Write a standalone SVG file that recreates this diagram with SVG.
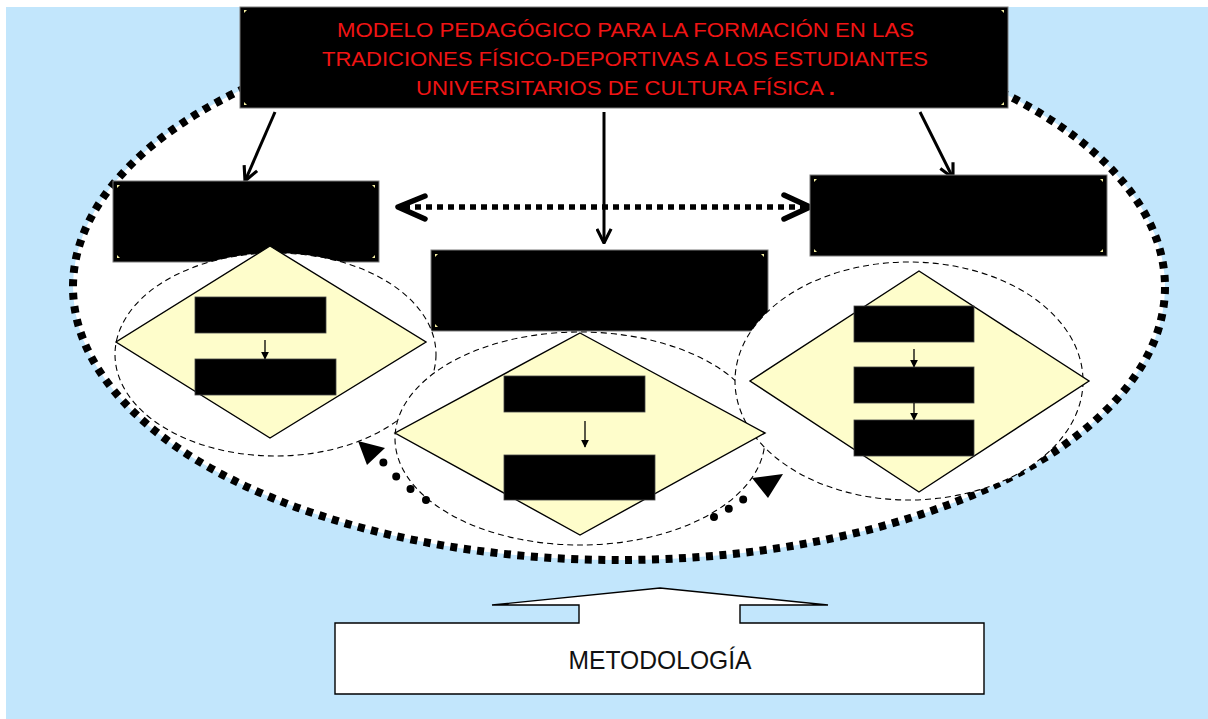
<svg xmlns="http://www.w3.org/2000/svg" width="1208" height="719" viewBox="0 0 1208 719">
<defs>
<style>
.blk{fill:#000;stroke:#7a7a7a;stroke-width:1}
.dia{fill:#fefdcb;stroke:#000;stroke-width:1.4}
.sell{fill:#fff;stroke:#000;stroke-width:1.1;stroke-dasharray:6 4}
.ib{fill:#000;stroke:#444;stroke-width:0.8}
.tarrow{fill:none;stroke:#000;stroke-width:3;marker-end:url(#openHead)}
.iarrow{fill:none;stroke:#000;stroke-width:1.3;marker-end:url(#smallHead)}
.corner{fill:#f4eea0}
.title{font-family:"Liberation Sans Narrow","Liberation Sans",Arial,sans-serif;font-size:21px;fill:#f01414;text-anchor:middle}
.meth{font-family:"Liberation Sans Narrow","Liberation Sans",Arial,sans-serif;font-size:25px;fill:#111;text-anchor:middle}
</style>
<marker id="openHead" viewBox="0 0 12 12" refX="11" refY="6" markerWidth="17" markerHeight="17" markerUnits="userSpaceOnUse" orient="auto">
<path d="M1,1 L11,6 L1,11" fill="none" stroke="#000" stroke-width="2.2"/>
</marker>
<marker id="smallHead" viewBox="0 0 10 10" refX="9" refY="5" markerWidth="8" markerHeight="8" markerUnits="userSpaceOnUse" orient="auto">
<path d="M0,0 L10,5 L0,10 z" fill="#000"/>
</marker>
</defs>

<rect x="6" y="7" width="1202" height="712" fill="#c2e6fc"/>

<g id="outer-ellipse">
<ellipse cx="619" cy="287" rx="546" ry="273" fill="#fff" stroke="#000" stroke-width="8" stroke-dasharray="7 6.5"/>
</g>

<g id="title">
<rect class="blk" x="240" y="7" width="768" height="101"/>
<polygon class="corner" points="244,10 247,10 244,13"/>
<polygon class="corner" points="1004,10 1001,10 1004,13"/>
<polygon class="corner" points="244,105 247,105 244,102"/>
<polygon class="corner" points="1004,105 1001,105 1004,102"/>
<text class="title" x="625.5" y="37" textLength="577" lengthAdjust="spacingAndGlyphs">MODELO PEDAGÓGICO PARA LA FORMACIÓN  EN LAS</text>
<text class="title" x="625" y="66" textLength="606" lengthAdjust="spacingAndGlyphs">TRADICIONES FÍSICO-DEPORTIVAS A LOS ESTUDIANTES</text>
<text class="title" x="625.5" y="95" textLength="419" lengthAdjust="spacingAndGlyphs">UNIVERSITARIOS DE CULTURA FÍSICA <tspan font-weight="bold">.</tspan></text>
</g>

<g id="connectors">
<line class="tarrow" x1="275" y1="112" x2="245" y2="181"/>
<line class="tarrow" x1="604" y1="112" x2="604" y2="243"/>
<line class="tarrow" x1="920" y1="112" x2="953" y2="178"/>
<line x1="404" y1="207" x2="806" y2="207" stroke="#000" stroke-width="5.5" stroke-dasharray="6 5"/>
<path d="M425,196 L398,207 L425,219" fill="none" stroke="#000" stroke-width="5.5" stroke-linecap="round" stroke-linejoin="round"/>
<path d="M784,195 L810,207 L784,219" fill="none" stroke="#000" stroke-width="5.5" stroke-linecap="round" stroke-linejoin="round"/>
</g>

<g id="node-left">
<rect class="blk" x="113" y="181" width="266" height="81"/>
<polygon class="corner" points="117,185 120,185 117,188"/>
<polygon class="corner" points="375,185 372,185 375,188"/>
<polygon class="corner" points="117,258 120,258 117,255"/>
<polygon class="corner" points="375,258 372,258 375,255"/>
</g>
<g id="node-right">
<rect class="blk" x="810" y="175" width="297" height="81"/>
<polygon class="corner" points="814,179 817,179 814,182"/>
<polygon class="corner" points="1103,179 1100,179 1103,182"/>
<polygon class="corner" points="814,252 817,252 814,249"/>
<polygon class="corner" points="1103,252 1100,252 1103,249"/>
</g>
<g id="node-middle">
<rect class="blk" x="431" y="250" width="337" height="81"/>
<polygon class="corner" points="435,254 438,254 435,257"/>
<polygon class="corner" points="764,254 761,254 764,257"/>
<polygon class="corner" points="435,327 438,327 435,324"/>
</g>

<g id="cluster-left">
<ellipse class="sell" cx="275.5" cy="354.5" rx="160.5" ry="101.5"/>
</g>
<g id="cluster-middle">
<ellipse class="sell" cx="580" cy="438.5" rx="185" ry="106.5"/>
</g>
<g id="cluster-right">
<ellipse class="sell" cx="909" cy="381" rx="174" ry="119"/>
</g>

<g id="diamond-left">
<polygon class="dia" points="270,246 426,342 270,438 116,342"/>
<rect class="ib" x="195" y="297" width="131" height="36"/>
<line class="iarrow" x1="265" y1="340" x2="265" y2="359"/>
<rect class="ib" x="195" y="359" width="141" height="36"/>
</g>
<g id="diamond-middle">
<polygon class="dia" points="580,333 765,433 580,535 395,433"/>
<rect class="ib" x="504" y="376" width="141" height="36"/>
<line class="iarrow" x1="585" y1="421" x2="585" y2="447"/>
<rect class="ib" x="504" y="455" width="151" height="45"/>
</g>
<g id="diamond-right">
<polygon class="dia" points="919,271 1089,381 919,492 750,381"/>
<rect class="ib" x="854" y="306" width="120" height="36"/>
<line class="iarrow" x1="914" y1="349" x2="914" y2="367"/>
<rect class="ib" x="854" y="367" width="120" height="36"/>
<line class="iarrow" x1="914" y1="403" x2="914" y2="420"/>
<rect class="ib" x="854" y="420" width="120" height="36"/>
</g>

<g id="cycle-arrows">
<path d="M426,500 Q400,483 383,462" fill="none" stroke="#000" stroke-width="8" stroke-linecap="round" stroke-dasharray="0 19"/>
<polygon points="358,441 385,448 367,465" fill="#000"/>
<path d="M714,517 Q731,508 747,497" fill="none" stroke="#000" stroke-width="8" stroke-linecap="round" stroke-dasharray="0 17"/>
<polygon points="783,474 752,478 768,498" fill="#000"/>
</g>

<g id="metodologia">
<polygon points="660,588 828,605 740,605 740,623 984,623 984,694 335,694 335,623 579,623 579,605 492,605" fill="#fff" stroke="#000" stroke-width="1.4" stroke-linejoin="miter"/>
<text class="meth" x="660" y="669" textLength="183" lengthAdjust="spacingAndGlyphs">METODOLOGÍA</text>
</g>
</svg>
